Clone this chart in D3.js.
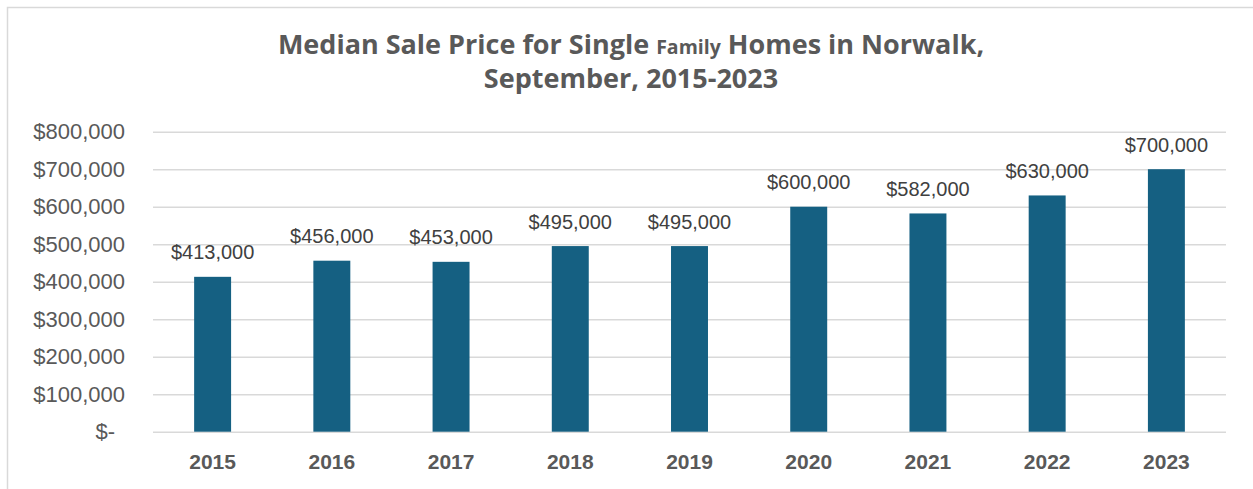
<!DOCTYPE html>
<html>
<head>
<meta charset="utf-8">
<script src="https://cdn.jsdelivr.net/npm/d3@7"></script>
<style>
  body { margin: 0; background: #fff; }
  svg { display: block; }
</style>
</head>
<body>
<svg id="chart" width="1253" height="489"></svg>
<script>
(function () {
    // data
    const years = ["2015", "2016", "2017", "2018", "2019", "2020", "2021", "2022", "2023"];
    const prices = [413000, 456000, 453000, 495000, 495000, 600000, 582000, 630000, 700000];
    const yTicks = [0, 100000, 200000, 300000, 400000, 500000, 600000, 700000, 800000];

    const svg = d3.select("#chart");
    const grey = "#595959";
    const font = "'Liberation Sans', Arial, sans-serif";

    // outer chart border (runs off the right / bottom edge)
    svg.append("rect")
        .attr("x", 7.5).attr("y", 7.5)
        .attr("width", 1300).attr("height", 600)
        .attr("fill", "none")
        .attr("stroke", "#d9d9d9")
        .attr("stroke-width", 1.5);

    const x = d3.scaleBand()
        .domain(years)
        .range([153, 1226])
        .paddingInner(0.69)
        .paddingOuter(0.345);

    const y = d3.scaleLinear()
        .domain([0, 800000])
        .range([431.7, 131.7]);

    const money = d3.format(",");

    //title
    const title = svg.append("text")
        .attr("x", 631)
        .attr("text-anchor", "middle")
        .attr("font-family", "'Open Sans', sans-serif")
        .attr("font-weight", "bold")
        .attr("fill", grey);
    const line1 = title.append("tspan").attr("x", 631).attr("y", 54).attr("font-size", 27);
    line1.append("tspan").text("Median Sale Price for Single ");
    line1.append("tspan").attr("font-size", 19.5).text("Family");
    line1.append("tspan").text(" Homes in Norwalk,");
    title.append("tspan").attr("x", 631).attr("y", 88).attr("font-size", 27)
        .text("September, 2015-2023");

    //gridlines + y labels
    const yAxis = d3.axisLeft(y)
        .tickValues(yTicks)
        .tickSize(-(1226 - 153))
        .tickPadding(28)
        .tickFormat(d => d === 0 ? "$-" : "$" + money(d));

    const gy = svg.append("g")
        .attr("transform", "translate(153,0)")
        .call(yAxis);
    gy.select(".domain").remove();
    gy.selectAll(".tick line")
        .attr("stroke", "#d9d9d9")
        .attr("stroke-width", 1.5);
    gy.selectAll(".tick text")
        .attr("font-family", font)
        .attr("font-size", 22)
        .attr("fill", grey)
        .attr("dy", "0.32em");
    gy.selectAll(".tick text").filter(d => d === 0).attr("dx", -10);

    //bars
    svg.append("g")
        .selectAll("rect")
        .data(prices)
        .join("rect")
        .attr("x", (d, i) => x(years[i]))
        .attr("y", d => y(d))
        .attr("width", x.bandwidth())
        .attr("height", d => y(0) - y(d))
        .attr("fill", "#156082");

    //data labels
    svg.append("g")
        .selectAll("text")
        .data(prices)
        .join("text")
        .attr("x", (d, i) => x(years[i]) + x.bandwidth() / 2)
        .attr("y", d => y(d) - 17.5)
        .attr("text-anchor", "middle")
        .attr("font-family", font)
        .attr("font-size", 20)
        .attr("fill", "#404040")
        .text(d => "$" + money(d));

    //x axis labels
    const xAxis = d3.axisBottom(x).tickSize(0).tickPadding(0);
    const gx = svg.append("g")
        .attr("transform", "translate(0,469)")
        .call(xAxis);
    gx.select(".domain").remove();
    gx.selectAll(".tick text")
        .attr("dy", 0)
        .attr("font-family", font)
        .attr("font-size", 21)
        .attr("font-weight", "bold")
        .attr("fill", grey);
})();
</script>
</body>
</html>
